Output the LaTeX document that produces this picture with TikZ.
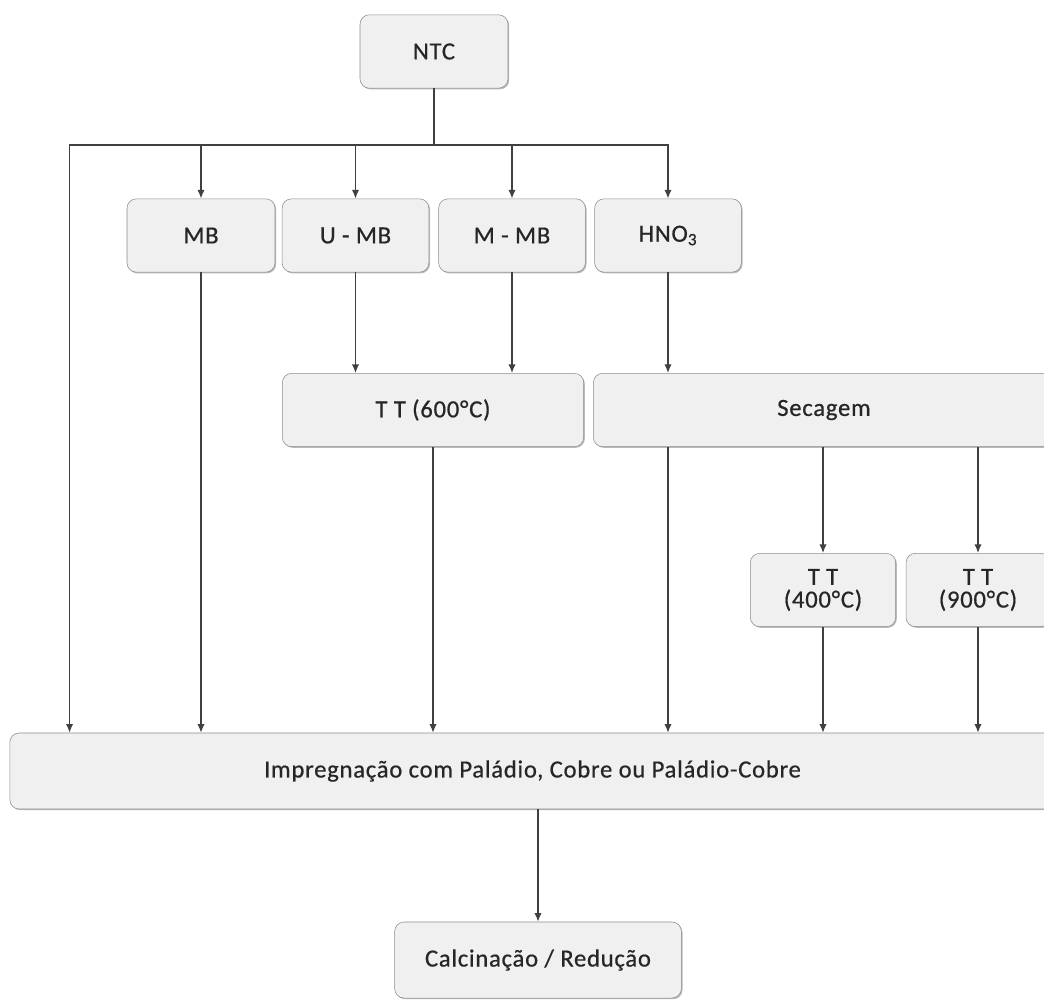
\documentclass[tikz,border=0pt]{standalone}
\usepackage{fontspec}
\setmainfont{Carlito}
\usetikzlibrary{arrows.meta,positioning,shadows}

\begin{document}
\begin{tikzpicture}[x=0.75pt,y=-0.75pt,
    stage/.style={rectangle,rounded corners=7pt,draw=gray!90,fill=gray!12,
      general shadow={shadow xshift=0.9pt,shadow yshift=-0.9pt,fill=gray!55},
      minimum height=55pt,inner sep=2pt,align=center,text=black!85,
      font=\fontsize{18.5}{17}\selectfont\addfontfeature{LetterSpace=3,FakeBold=0.6}},
    link/.style={draw=black!75,line width=1.1pt},
    arr/.style={link,-{Latex[length=6.5pt,width=5.5pt]}}]
    \useasboundingbox (0,0) rectangle (1044,1006);
    \clip (0,0) rectangle (1044,1006);

    % first row
    \node[stage,minimum width=111pt] (ntc) at (434,51.5) {NTC};
    \node[stage,minimum width=111pt] (mb) at (201,235.5) {MB};
    \node[stage,minimum width=110pt] (umb) at (355.5,235.5) {U - MB};
    \node[stage,minimum width=110pt] (mmb) at (512,235.5) {M - MB};
    \node[stage,minimum width=110pt] (hno) at (668,235.5) {HNO\textsubscript{3}};

    % treatments
    \node[stage,minimum width=226pt] (tt6) at (433,410) {T T (600°C)};
    \node[stage,minimum width=346pt] (sec) at (824,410) {Secagem};
    \node[stage,minimum width=109pt] (tt4) at (823,590) {T T\\(400°C)};
    \node[stage,minimum width=108pt] (tt9) at (978,590) {T T\\(900°C)};

    % impregnation and final step
    \node[stage,minimum width=784pt,minimum height=57pt] (imp) at (532.5,771) {Impregnação com Paládio, Cobre ou Paládio-Cobre};
    \node[stage,minimum width=215pt,minimum height=57pt] (calc) at (538,960) {Calcinação / Redução};

    \coordinate (bus) at (ntc.south |- 0,145);
    \coordinate (imp-in) at ([xshift=45pt]imp.north west);

    \draw[link] (ntc.south) -- (bus);
    \draw[arr] (bus) -| (imp-in);
    \draw[arr] (bus) -| (mb.north);
    \draw[arr] (bus) -| (umb.north);
    \draw[arr] (bus) -| (mmb.north);
    \draw[arr] (bus) -| (hno.north);

    \draw[arr] (mb.south) -- (mb |- imp.north);
    \draw[arr] (umb.south) -- (umb |- tt6.north);
    \draw[arr] (mmb.south) -- (mmb |- tt6.north);
    \draw[arr] (hno.south) -- (hno |- sec.north);
    \draw[arr] (tt6.south) -- (tt6 |- imp.north);
    \draw[arr] (hno |- sec.south) -- (hno |- imp.north);
    \draw[arr] (tt4 |- sec.south) -- (tt4.north);
    \draw[arr] (tt9 |- sec.south) -- (tt9.north);
    \draw[arr] (tt4.south) -- (tt4 |- imp.north);
    \draw[arr] (tt9.south) -- (tt9 |- imp.north);
    \draw[arr] (calc |- imp.south) -- (calc.north);
  \end{tikzpicture}
\end{document}
